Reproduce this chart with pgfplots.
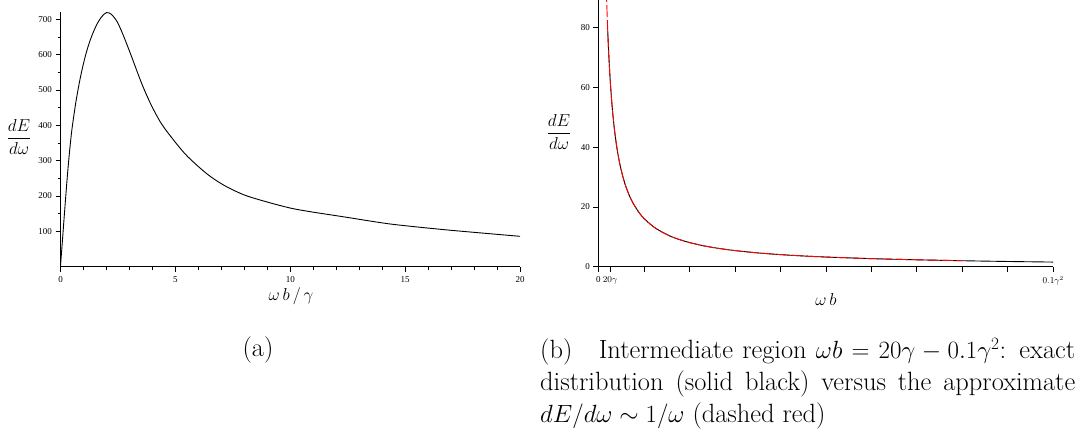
\documentclass[border=0pt]{standalone}
\usepackage{amsmath}
\usepackage{fontspec}
\usepackage{pgfplots}
\pgfplotsset{compat=1.18}
\newfontfamily\tickfont{Liberation Serif}

\pgfplotstableread{
x y
0 3
0.05 45
0.1 88
0.15 132
0.2 175
0.3 258
0.4 330
0.5 390
0.66 462
0.8 514
0.9 546
1.0 575
1.11 603
1.25 633
1.41 661
1.6 688
1.8 708
2.0 719
2.2 715
2.46 694
2.7 660
2.98 614
3.2 576
3.36 548
3.6 508
3.96 456
4.4 404
5.0 352
5.53 312
6.35 264
7.1 231
8.0 203
9.0 183
10.0 166
10.84 156
12.34 141
14.0 124
15.0 116
17.0 103
20.0 86
}\spectrum

\pgfplotstableread{
x y
2.05 79
2.2 73.6
2.4 67.5
2.57 63.0
2.8 57.9
3.0 54.0
3.3 49.1
3.6 45.0
4.0 40.5
4.5 36.0
5.0 32.4
5.5 29.5
6.0 27.0
7.0 23.1
8.0 20.3
9.0 18.0
10.0 16.2
12.0 13.5
14.0 11.6
16.0 10.1
18.0 9.0
20.0 8.1
23.0 7.04
26.0 6.23
30.0 5.4
35.0 4.63
40.0 4.05
45.0 3.6
50.0 3.24
60.0 2.7
70.0 2.31
80.0 2.0
90.0 1.75
100.0 1.55
}\exact

\pgfplotstableread{
x y
1.75 92.6
1.85 87.6
2.0 81.0
2.2 73.6
2.4 67.5
2.57 63.0
2.8 57.9
3.0 54.0
3.3 49.1
3.6 45.0
4.0 40.5
4.5 36.0
5.0 32.4
5.5 29.5
6.0 27.0
7.0 23.1
8.0 20.3
9.0 18.0
10.0 16.2
12.0 13.5
14.0 11.6
16.0 10.1
18.0 9.0
20.0 8.1
23.0 7.04
26.0 6.23
30.0 5.4
35.0 4.63
40.0 4.05
45.0 3.6
50.0 3.24
60.0 2.7
70.0 2.31
80.0 2.03
}\approxred

\begin{document}
\begin{tikzpicture}[x=1pt,y=1pt]
\useasboundingbox (0,0) rectangle (1079,-441);

\pgfplotsset{
  mystyle/.style={
    scale only axis,
    axis x line=bottom, axis y line=left,
    axis line style={-, line width=0.8pt},
    tick align=outside, major tick length=5pt, minor tick length=3pt,
    tick style={black, line width=0.6pt},
    ticklabel style={font=\tickfont\fontsize{9}{10}\selectfont},
    /pgf/number format/assume math mode=true,
    xticklabel style={yshift=-1pt},
  }
}

% panel (a)
\begin{axis}[mystyle,
  at={(60.5pt,-266.7pt)}, anchor=south west,
  width=459.5pt, height=254.4pt,
  xmin=0, xmax=20, ymin=0, ymax=720,
  xtick={0,5,10,15,20}, ytick={100,200,300,400,500,600,700},
  minor x tick num=4, minor y tick num=1,
]
\addplot[black, line width=0.9pt, smooth] table[x=x,y=y] {\spectrum};
\end{axis}

% panel (b)
\begin{axis}[mystyle,
  at={(598.4pt,-266.7pt)}, anchor=south west,
  width=454.8pt, height=266.7pt,
  xmin=0, xmax=100, ymin=0, ymax=89.3,
  xtick={0,2.57,10,20,30,40,50,60,70,80,90,100},
  xticklabels={0,$20\gamma$,,,,,,,,,,$0.1\gamma^2$},
  ytick={0,20,40,60,80},
]
\addplot[black, line width=0.9pt, smooth] table[x=x,y=y] {\exact};
\addplot[red, line width=0.9pt, smooth, dash pattern=on 12pt off 3pt] table[x=x,y=y] {\approxred};
\end{axis}

% axis labels
\node[font=\fontsize{16}{19}\selectfont] at (291,-296) {$\omega\, b\,/\,\gamma$};
\node[font=\fontsize{16}{19}\selectfont] at (19,-137) {$\dfrac{dE}{d\omega}$};
\node[font=\fontsize{16}{19}\selectfont] at (826,-299) {$\omega\, b$};
\node[font=\fontsize{16}{19}\selectfont] at (559,-132) {$\dfrac{dE}{d\omega}$};

% captions
\node[font=\fontsize{26.4}{32}\selectfont] at (258,-350) {(a)};
\node[anchor=north west, inner sep=0pt, text width=535pt, align=justify,
      font=\fontsize{26.4}{32}\selectfont] at (540,-338)
  {(b)\quad Intermediate region $\omega b = 20\gamma - 0.1\gamma^2$: exact distribution (solid black) versus the approximate $dE/d\omega \sim 1/\omega$ (dashed red)};
\end{tikzpicture}
\end{document}
